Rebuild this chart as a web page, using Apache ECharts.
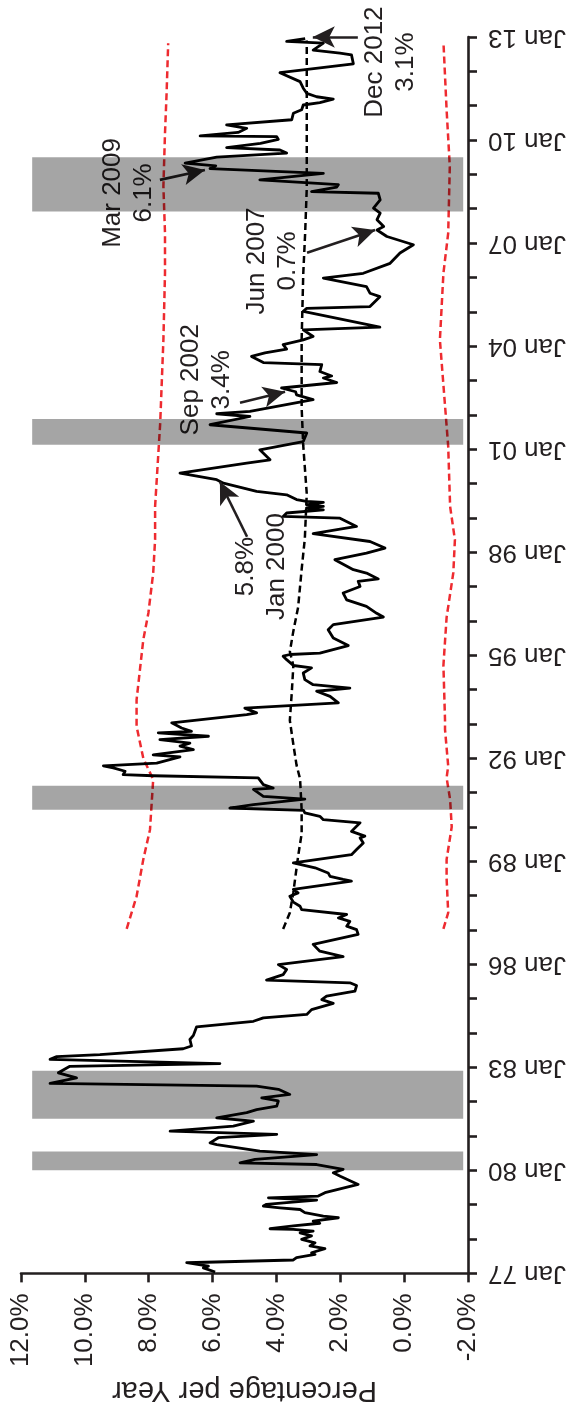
<!DOCTYPE html>
<html>
<head>
<meta charset="utf-8">
<script src="https://cdn.jsdelivr.net/npm/echarts@6/dist/echarts.min.js"></script>
<style>
html,body{margin:0;padding:0;background:#fff;}
#chart{width:572px;height:1409px;}
</style>
</head>
<body>
<div id="chart"></div>
<script>
// ---- Data (dates as decimal years, rates in % per year) ----
const rateDates = [1977.04,1977.16,1977.21,1977.31,1977.39,1977.46,1977.55,1977.60,1977.72,1977.80,1977.89,1977.99,1978.09,1978.18,1978.23,1978.28,1978.30,1978.38,1978.46,1978.52,1978.62,1978.67,1978.77,1978.86,1978.91,1978.96,1979.01,1979.06,1979.13,1979.20,1979.25,1979.35,1979.59,1979.64,1979.83,1979.93,1980.03,1980.17,1980.22,1980.32,1980.46,1980.56,1980.75,1980.80,1980.95,1981.05,1981.14,1981.19,1981.29,1981.43,1981.53,1981.68,1981.77,1981.87,1982.02,1982.11,1982.21,1982.36,1982.45,1982.53,1982.69,1982.84,1983.03,1983.11,1983.23,1983.31,1983.37,1983.54,1983.62,1983.81,1983.93,1984.18,1984.34,1984.44,1984.54,1984.68,1984.86,1984.97,1985.07,1985.22,1985.38,1985.46,1985.54,1985.70,1985.85,1985.99,1986.22,1986.38,1986.58,1986.87,1987.01,1987.11,1987.25,1987.35,1987.45,1987.59,1987.69,1987.81,1987.98,1988.08,1988.18,1988.42,1988.47,1988.56,1988.66,1988.81,1988.95,1989.19,1989.34,1989.53,1989.68,1989.73,1989.87,1990.12,1990.21,1990.31,1990.41,1990.48,1990.55,1990.65,1990.81,1990.89,1991.09,1991.13,1991.23,1991.43,1991.49,1991.52,1991.62,1991.72,1991.78,1991.86,1992.04,1992.10,1992.25,1992.35,1992.44,1992.54,1992.64,1992.74,1992.78,1992.88,1993.03,1993.27,1993.32,1993.46,1993.61,1993.80,1993.95,1994.04,1994.14,1994.29,1994.48,1994.63,1994.70,1994.87,1994.97,1995.02,1995.06,1995.28,1995.50,1995.74,1995.89,1996.11,1996.22,1996.42,1996.61,1996.81,1997.00,1997.15,1997.22,1997.39,1997.49,1997.78,1997.97,1998.12,1998.31,1998.54,1998.75,1998.99,1999.04,1999.14,1999.23,1999.28,1999.33,1999.38,1999.45,1999.48,1999.53,1999.67,1999.77,2000.01,2000.11,2000.30,2000.59,2000.69,2000.98,2001.22,2001.47,2001.71,2001.95,2002.03,2002.10,2002.44,2002.58,2002.67,2002.78,2002.94,2003.07,2003.13,2003.26,2003.46,2003.52,2003.70,2003.80,2003.91,2004.04,2004.18,2004.28,2004.47,2004.55,2005.01,2005.10,2005.15,2005.44,2005.54,2005.73,2005.98,2006.12,2006.41,2006.71,2006.95,2007.19,2007.38,2007.48,2007.68,2007.87,2008.02,2008.26,2008.45,2008.50,2008.63,2008.70,2008.84,2009.03,2009.17,2009.25,2009.33,2009.50,2009.62,2009.71,2009.78,2009.90,2010.02,2010.10,2010.12,2010.22,2010.34,2010.44,2010.59,2010.78,2010.88,2011.02,2011.09,2011.19,2011.26,2011.36,2011.51,2011.70,2011.96,2012.04,2012.22,2012.48,2012.53,2012.62,2012.82,2012.87,2012.95];
const rateValues = [5.92,6.29,6.13,6.81,3.47,3.37,2.79,2.90,2.48,2.95,2.79,3.21,2.90,3.26,2.85,3.47,4.20,3.47,2.64,2.85,2.06,2.53,3.11,3.26,3.89,4.41,4.31,3.68,2.74,4.25,2.69,2.48,1.44,1.38,2.00,2.22,1.91,2.74,5.14,4.67,2.74,4.52,5.87,6.08,5.82,3.99,7.33,7.28,5.35,4.72,5.87,4.93,4.62,3.99,3.94,4.46,3.58,3.94,4.62,11.09,10.26,10.83,10.47,5.77,11.09,10.88,9.53,6.92,6.66,6.71,6.60,6.50,4.72,4.41,3.05,2.90,2.22,2.58,2.43,1.54,1.49,1.70,4.31,3.79,3.68,3.94,1.91,2.64,2.85,1.44,1.49,1.80,1.70,2.06,1.80,3.21,3.26,3.47,3.58,3.32,3.47,1.65,1.91,2.32,2.38,2.79,3.47,1.65,1.49,1.28,1.38,1.23,1.65,1.38,2.53,2.64,3.11,3.15,5.46,4.72,3.11,4.41,4.72,4.10,4.41,4.57,7.86,8.80,8.74,9.11,9.42,7.75,7.02,7.86,6.60,7.02,6.71,7.65,6.13,7.70,6.66,6.97,7.28,4.93,4.62,4.99,2.06,2.32,2.74,1.70,2.85,3.11,3.16,2.90,3.47,3.68,3.79,3.58,2.64,1.75,2.22,2.38,2.22,0.65,0.86,1.18,1.80,1.91,1.38,1.44,0.81,1.18,1.59,2.17,1.18,0.60,1.07,2.85,1.49,2.01,3.79,3.68,2.53,3.06,2.53,3.06,2.53,3.06,3.37,3.68,4.62,5.66,5.87,7.02,4.93,4.20,4.52,3.16,3.05,6.08,4.83,5.87,4.83,2.85,3.37,3.40,3.84,2.11,2.53,2.27,2.64,2.58,4.41,4.78,4.36,3.68,3.79,3.16,2.85,3.16,0.76,3.16,3.05,1.07,0.76,1.07,1.18,2.53,1.28,0.44,0.13,-0.29,0.54,0.85,0.64,0.85,0.75,0.96,0.75,0.81,2.90,2.11,2.06,4.52,2.53,6.08,5.90,6.86,5.87,3.68,3.89,5.56,4.50,3.94,3.99,6.39,5.20,4.93,5.56,3.52,3.47,3.21,3.16,2.64,2.22,2.74,3.05,3.16,3.26,3.89,3.16,1.59,1.65,2.01,2.85,2.53,3.68,3.10];

const trendDates = [1987.03,1987.50,1988.10,1989.15,1989.80,1990.50,1991.40,1991.80,1992.40,1993.10,1993.90,1994.70,1995.10,1995.70,1996.40,1997.50,1998.40,1999.70,2001.10,2002.20,2004.20,2006.10,2007.30,2008.60,2010.30,2012.90];
const trendValues = [3.79,3.58,3.47,3.32,3.21,3.21,3.26,3.37,3.47,3.58,3.52,3.47,3.58,3.47,3.32,3.21,3.11,3.05,3.16,3.21,3.21,3.16,3.10,3.05,3.05,3.05];

const upperDates = [1987.03,1987.98,1989.05,1989.92,1991.38,1992.00,1992.93,1993.70,1995.45,1996.23,1997.39,1998.36,1999.33,2001.76,2004.18,2006.12,2007.29,2008.65,2010.20,2011.36,2012.82];
const upperValues = [8.69,8.38,8.17,7.96,7.86,8.17,8.38,8.38,8.17,8.01,7.86,7.80,7.80,7.64,7.54,7.49,7.49,7.54,7.49,7.44,7.39];

const lowerDates = [1987.03,1987.50,1988.50,1989.05,1990.00,1990.80,1991.43,1991.77,1992.84,1993.12,1994.70,1996.10,1997.40,1998.36,1999.33,2001.08,2004.18,2006.12,2007.29,2009.23,2010.88,2012.87];
const lowerValues = [-1.23,-1.38,-1.33,-1.33,-1.49,-1.44,-1.33,-1.38,-1.28,-1.28,-1.23,-1.33,-1.54,-1.59,-1.44,-1.38,-1.12,-1.23,-1.38,-1.43,-1.33,-1.23];

// recession periods [start, end] in decimal years
const recessions = [[1980.00,1980.55],[1981.50,1982.90],[1990.50,1991.20],[2001.13,2001.88],[2007.92,2009.50]];

const yearTicks = [1977,1980,1983,1986,1989,1992,1995,1998,2001,2004,2007,2010,2013];
const rateTicks = [-2,0,2,4,6,8,10,12];

// annotations: text lines and the point (date, rate) the arrow points at
const notes = [
  {lines:['Dec 2012','3.1%'], date:2013.00, rate:2.86},
  {lines:['Mar 2009','6.1%'], date:2009.13, rate:6.24},
  {lines:['Jun 2007','0.7%'], date:2007.38, rate:0.91},
  {lines:['Sep 2002','3.4%'], date:2002.67, rate:3.73},
  {lines:['5.8%','Jan 2000'], date:2000.05, rate:5.77}
];
// ---- Layout of annotation labels / arrow tails (in axis units) ----
const noteLayout = [
  {labelDate:2012.27, labelRate:0.44, tailDate:2013.00, tailRate:1.45},
  {labelDate:2008.46, labelRate:8.65, tailDate:2008.84, tailRate:7.65},
  {labelDate:2006.48, labelRate:4.14, tailDate:2006.72, tailRate:3.04},
  {labelDate:2003.02, labelRate:6.21, tailDate:2002.35, tailRate:5.14},
  {labelDate:1997.58, labelRate:4.48, tailDate:1998.45, tailRate:4.92}
];

const FONT = "'Liberation Sans', Arial, Helvetica, sans-serif";
const INK = '#231f20';

function pairs(d, v){ return d.map((t,i)=>[v[i], t]); }

const chart = echarts.init(document.getElementById('chart'), null, {renderer:'canvas'});
const option = {
  animation:false,
  backgroundColor:'#ffffff',
  grid:{left:21, right:104, top:37, bottom:135, containLabel:false},
  xAxis:{
    type:'value', min:-2, max:12, interval:2, inverse:true, position:'bottom',
    name:'Percentage per Year', nameLocation:'middle', nameRotate:180, nameGap:100,
    nameTextStyle:{fontFamily:FONT, fontSize:29, color:INK},
    axisLine:{onZero:false, lineStyle:{color:INK, width:2.6}},
    axisTick:{show:true, length:9, lineStyle:{color:INK, width:2.6}},
    axisLabel:{rotate:90, margin:20, fontFamily:FONT, fontSize:26, color:INK,
      formatter:(v)=> rateTicks.indexOf(v)>=0 ? v.toFixed(1)+'%' : ''},
    splitLine:{show:false}
  },
  yAxis:{
    type:'value', min:1977, max:2013, interval:1, position:'right',
    axisLine:{onZero:false, lineStyle:{color:INK, width:2.6}},
    axisTick:{show:true, length:9, lineStyle:{color:INK, width:2.6}},
    axisLabel:{rotate:180, margin:20, fontFamily:FONT, fontSize:26, color:INK,
      formatter:(v)=> yearTicks.indexOf(v)>=0 ? 'Jan ' + String(v).slice(2) : ''},
    splitLine:{show:false}
  },
  series:[
    {
      name:'upper', type:'line', data:pairs(upperDates, upperValues), showSymbol:false, z:2,
      lineStyle:{color:'#ee2b30', width:2.5, type:[7,4]}, silent:true
    },
    {
      name:'lower', type:'line', data:pairs(lowerDates, lowerValues), showSymbol:false, z:2,
      lineStyle:{color:'#ee2b30', width:2.5, type:[7,4]}, silent:true
    },
    {
      name:'trend', type:'line', data:pairs(trendDates, trendValues), showSymbol:false, z:3,
      lineStyle:{color:'#000000', width:2.5, type:[7,4]}, silent:true
    },
    {
      name:'rate', type:'line', data:pairs(rateDates, rateValues), showSymbol:false, z:4,
      lineStyle:{color:'#000000', width:2.8, join:'round'}, silent:true, clip:false,
      markArea:{
        silent:true, z:10,
        itemStyle:{color:'rgba(0,0,0,0.353)'},
        data: recessions.map(r=>[{coord:[11.65, r[1]]},{coord:[-1.85, r[0]]}])
      },
      markLine:{
        silent:true, symbol:['none','arrow'], symbolSize:[16,22],
        lineStyle:{color:INK, width:2.6, type:'solid'},
        label:{show:false},
        data: notes.map((n,i)=>[{coord:[noteLayout[i].tailRate, noteLayout[i].tailDate]},{coord:[n.rate, n.date]}])
      },
      markPoint:{
        silent:true, symbol:'circle', symbolSize:1,
        itemStyle:{color:'rgba(0,0,0,0)'},
        label:{show:true, position:'inside', rotate:90, align:'center', verticalAlign:'middle',
          fontFamily:FONT, fontSize:26, lineHeight:31, color:INK},
        data: notes.map((n,i)=>({coord:[noteLayout[i].labelRate, noteLayout[i].labelDate], value:0,
          label:{formatter:n.lines.join('\n')}}))
      }
    }
  ]
};
chart.setOption(option);
</script>
</body>
</html>
